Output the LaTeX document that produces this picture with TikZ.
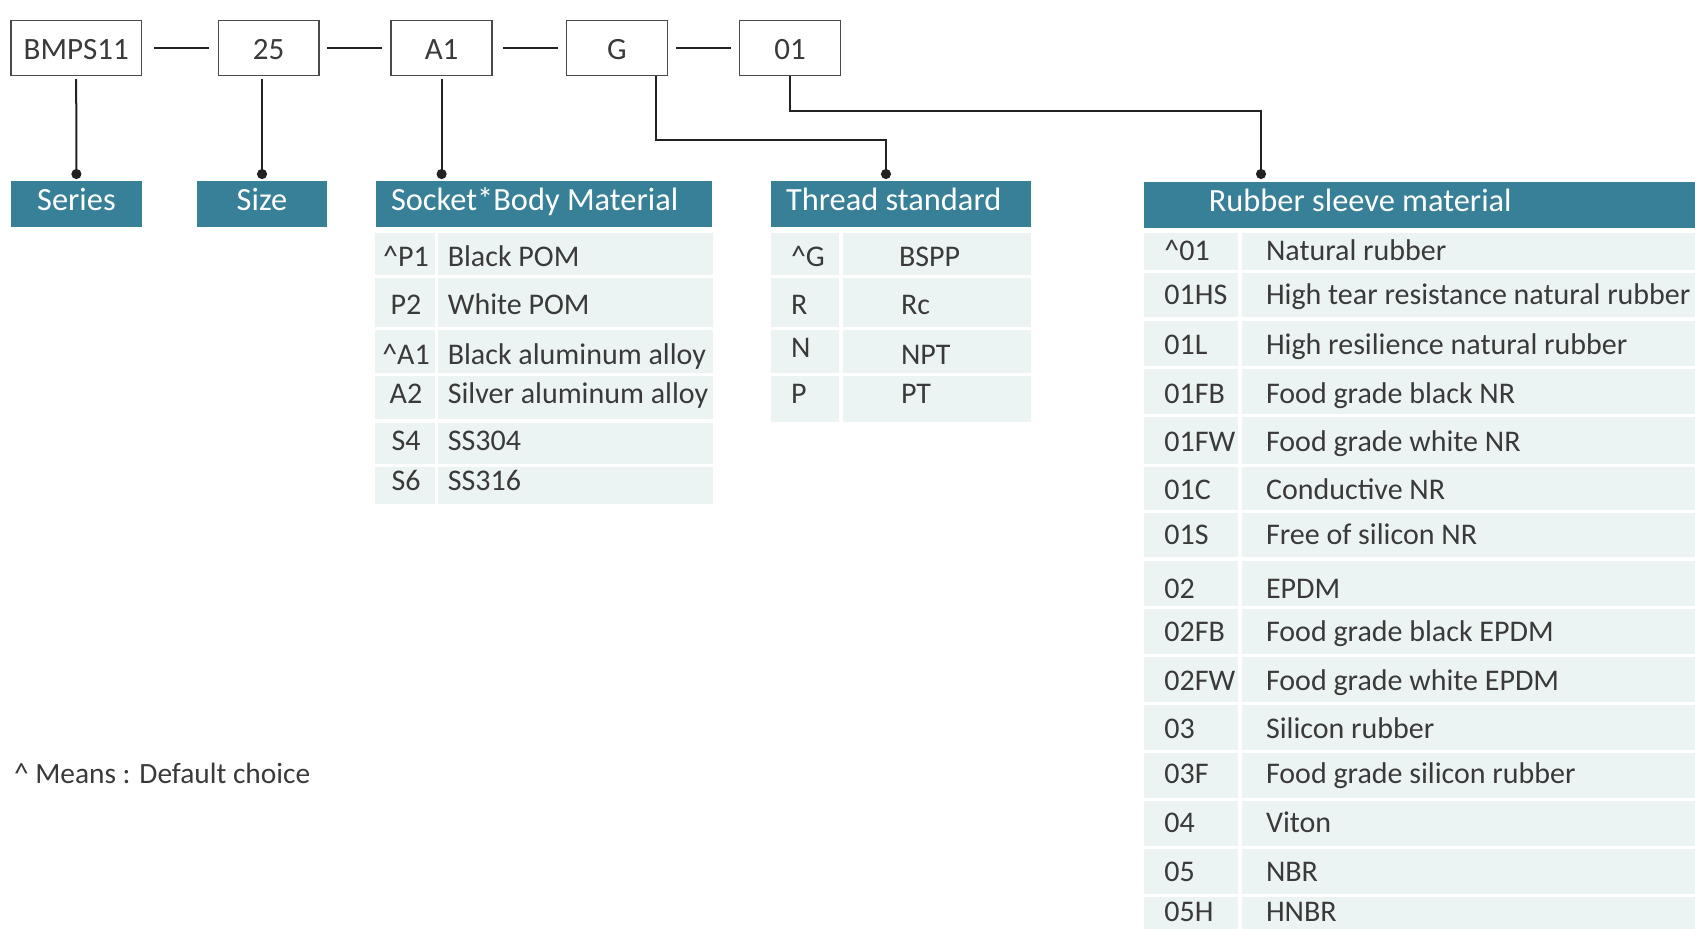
\documentclass[tikz,border=0pt]{standalone}
\usepackage{fontspec}
\setmainfont{Carlito}
\usetikzlibrary{arrows.meta,calc}
\definecolor{hdr}{HTML}{387F98}
\definecolor{rowbg}{HTML}{ECF4F3}
\definecolor{txt}{HTML}{3A3A3A}
\definecolor{bord}{HTML}{4A4A4A}
\definecolor{lnk}{HTML}{222222}
\newcommand\crt{\textasciicircum}
\begin{document}
\begin{tikzpicture}[x=0.5pt,y=-0.5pt,
  topbox/.style={draw=bord,line width=0.75pt,fill=white,minimum height=27.6pt,inner sep=0pt,outer sep=0pt,
     text=txt,font=\fontsize{15.5}{18}\selectfont,text height=11.2pt,text depth=0pt},
  hdrbox/.style={fill=hdr,minimum height=22.85pt,inner sep=0pt,outer sep=0pt},
  tx/.style={text=txt,inner sep=0pt,outer sep=0pt,font=\fontsize{15}{18}\selectfont},
  htx/.style={text=white,inner sep=0pt,outer sep=0pt,font=\fontsize{16.2}{19}\selectfont},
  joinline/.style={draw=lnk,line width=1pt},
  conn/.style={draw=lnk,line width=1pt,-{Circle[length=5pt,width=5pt]}}]
\useasboundingbox (0,0) rectangle (1695,929);
\clip (0,0) rectangle (1695,929);
\fill[white] (0,0) rectangle (1695,929);

% top code boxes
\node[topbox,minimum width=65.4pt] (bmps) at (76.2,48.1) {BMPS11};
\node[topbox,minimum width=50.4pt] (sz) at (268.7,48.1) {25};
\node[topbox,minimum width=50.4pt] (a1) at (441.6,48.1) {A1};
\node[topbox,minimum width=50.4pt] (g) at (617,48.1) {G};
\node[topbox,minimum width=50.4pt] (o1) at (790,48.1) {01};

\draw[joinline] ([xshift=6pt]bmps.east) -- ([xshift=-4.5pt]sz.west);
\draw[joinline] ([xshift=4pt]sz.east) -- ([xshift=-4.5pt]a1.west);
\draw[joinline] ([xshift=5.5pt]a1.east) -- ([xshift=-4.5pt]g.west);
\draw[joinline] ([xshift=4.5pt]g.east) -- ([xshift=-4.5pt]o1.west);

% header bars
\node[hdrbox,minimum width=65.6pt] (series) at (76.4,203.9) {};
\node[hdrbox,minimum width=65.35pt] (size) at (262.05,203.9) {};
\node[hdrbox,minimum width=168pt] (socket) at (544,203.9) {};
\node[hdrbox,minimum width=130.15pt] (thread) at (900.85,203.9) {};
\node[hdrbox,minimum width=278pt,minimum height=23pt] (rubber) at (1422,204.7) {};

\node[htx,anchor=base] (tseries) at (76.4,210.7) {Series};
\node[htx,anchor=base] (tsize) at (262,210.7) {Size};
\node[htx,anchor=base west] (tsocket) at (391,210.7) {Socket*Body Material};
\node[htx,anchor=base west] (tthread) at (786,210.7) {Thread standard};
\node[htx,anchor=base west] (trubber) at (1208.8,211.7) {Rubber sleeve material};

% connectors
\draw[conn] ($(bmps.south)+(0,3.5)$) -- ($(series.north)+(0,-2)$);
\draw[conn] ($(sz.south -| size.north)+(0,3.5)$) -- ($(size.north)+(0,-2)$);
\draw[conn] ($(a1.south)+(0,3.5)$) -- ($(a1.south |- socket.north)+(0,-2)$);
\draw[conn] ($(g.south east)+(-11.7,0)$) |- ($(thread.north)+(-14.9,-41)$) -- ($(thread.north)+(-14.9,-2)$);
\draw[conn] (o1.south) |- ($(rubber.north)+(-161,-70.7)$) -- ($(rubber.north)+(-161,-2.7)$);

% socket table
\foreach \a/\b in {233.3/275,278.3/326.7,330/372.7,376/419.3,422.7/464,467.3/503.7}{
  \fill[rowbg] (375.2,\a) rectangle (434.9,\b);
  \fill[rowbg] (438.3,\a) rectangle (713.1,\b);
}
\node[tx,anchor=base] (sc1) at (406,266.7) {\crt P1};
\node[tx,anchor=base west] (sd1) at (447.8,266.7) {Black POM};
\node[tx,anchor=base] (sc2) at (406,315) {P2};
\node[tx,anchor=base west] (sd2) at (447.8,315) {White POM};
\node[tx,anchor=base] (sc3) at (406,365) {\crt A1};
\node[tx,anchor=base west] (sd3) at (447.8,365) {Black aluminum alloy};
\node[tx,anchor=base] (sc4) at (406,404) {A2};
\node[tx,anchor=base west] (sd4) at (447.8,404) {Silver aluminum alloy};
\node[tx,anchor=base] (sc5) at (406,450.7) {S4};
\node[tx,anchor=base west] (sd5) at (447.8,450.7) {SS304};
\node[tx,anchor=base] (sc6) at (406,490.7) {S6};
\node[tx,anchor=base west] (sd6) at (447.8,490.7) {SS316};

% thread table
\foreach \a/\b in {233.3/275,278.3/326.7,330/372.7,376/421.7}{
  \fill[rowbg] (771.2,\a) rectangle (839.2,\b);
  \fill[rowbg] (842.5,\a) rectangle (1031,\b);
}
\node[tx,anchor=base west] (tc1) at (791,266.7) {\crt G};
\node[tx,anchor=base west] (td1) at (899,266.7) {BSPP};
\node[tx,anchor=base west] (tc2) at (791,315) {R};
\node[tx,anchor=base west] (td2) at (901,315) {Rc};
\node[tx,anchor=base west] (tc3) at (791,357.3) {N};
\node[tx,anchor=base west] (td3) at (901,365) {NPT};
\node[tx,anchor=base west] (tc4) at (791,404) {P};
\node[tx,anchor=base west] (td4) at (901,404) {PT};

% rubber table
\foreach \a/\b in {233.3/270,272.7/317.3,320.7/365.7,369/413.7,416.7/464,466.7/510,512.7/557.3,560.7/605.7,609/653.7,656.7/702,705/750,753.3/797.7,801/845.7,849/894,896.7/945}{
  \fill[rowbg] (1144.2,\a) rectangle (1238.4,\b);
  \fill[rowbg] (1241.7,\a) rectangle (1700,\b);
}
\foreach \n/\y/\c/\d in {1/261/\crt 01/Natural rubber,
  2/305/01HS/High tear resistance natural rubber,
  3/355/01L/High resilience natural rubber,
  4/404/01FB/Food grade black NR,
  5/451.7/01FW/Food grade white NR,
  6/500/01C/Conductive NR,
  7/545/01S/Free of silicon NR,
  8/598.3/02/EPDM,
  9/641.7/02FB/Food grade black EPDM,
  10/690/02FW/Food grade white EPDM,
  11/738.3/03/Silicon rubber,
  12/783.3/03F/Food grade silicon rubber,
  13/832.7/04/Viton,
  14/881.7/05/NBR,
  15/921/05H/HNBR}{
  \node[tx,anchor=base west] (rc\n) at (1164.4,\y) {\c};
  \node[tx,anchor=base west] (rd\n) at (1266,\y) {\d};
}

\node[tx,anchor=base west,font=\fontsize{14.7}{18}\selectfont] (note) at (14,783) {\crt{} Means : Default choice};
\end{tikzpicture}
\end{document}
